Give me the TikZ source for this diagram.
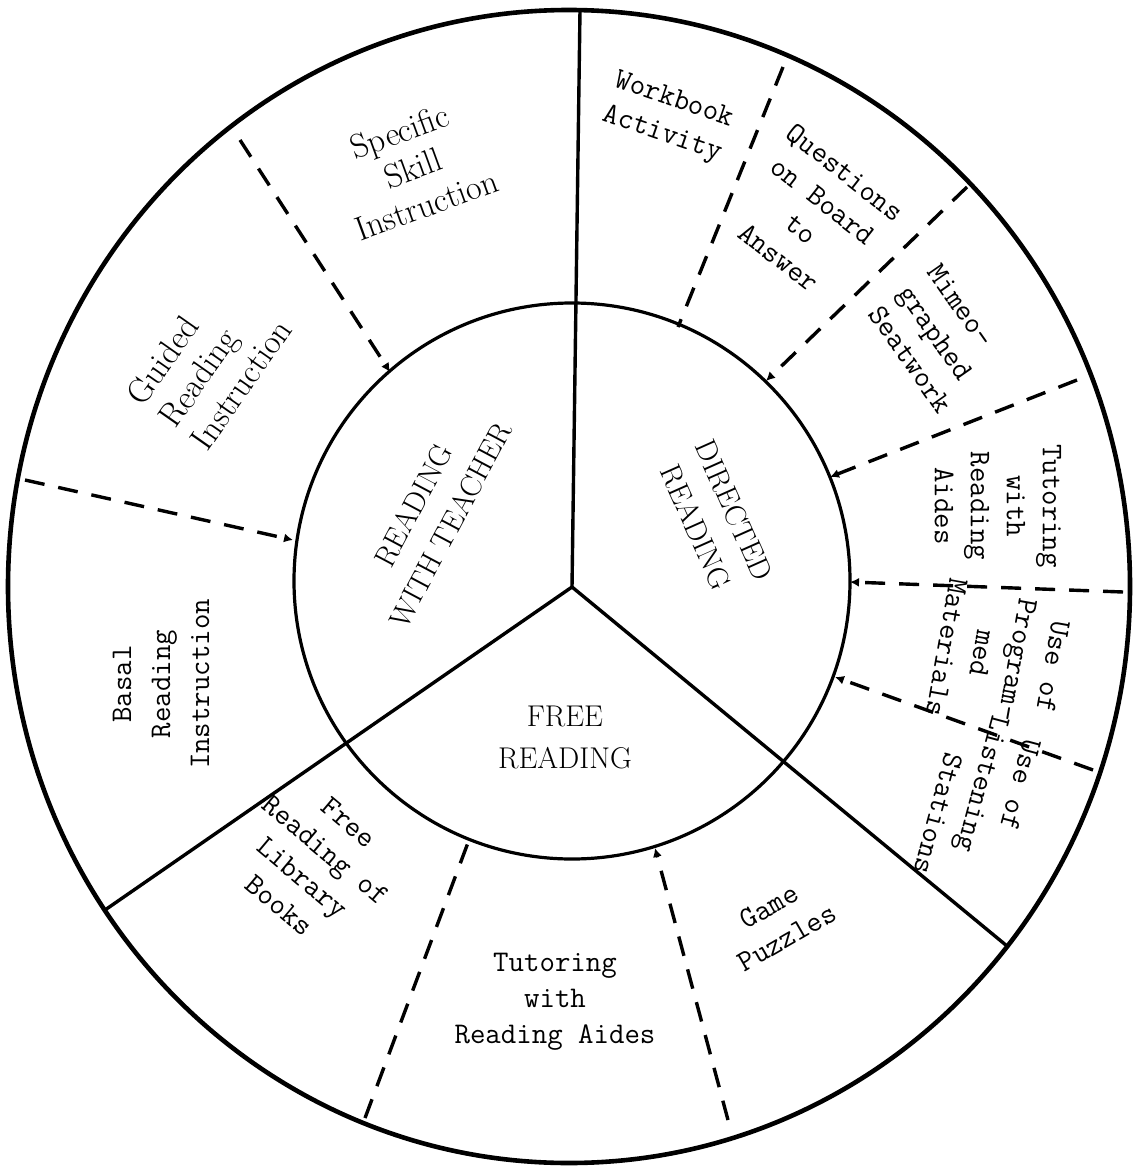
\documentclass[tikz,border=0pt]{standalone}
\usetikzlibrary{arrows.meta}
\begin{document}
\begin{tikzpicture}[x=0.5pt,y=-0.5pt,
  ring/.style={line width=2.3pt},
  hubline/.style={line width=1.6pt},
  spoke/.style={line width=1.7pt},
  divider/.style={line width=1.7pt, dash pattern=on 10pt off 7pt},
  tip/.style={-{Latex[length=4.5pt,width=4.5pt]}},
  tw/.style={font=\ttfamily\fontsize{15}{18}\selectfont, align=center, inner sep=0pt},
  rmlabel/.style={font=\fontsize{17}{19.5}\selectfont, align=center, inner sep=0pt},
  hublabel/.style={font=\fontsize{15}{21}\selectfont, align=center, inner sep=0pt}]

\useasboundingbox (0,0) rectangle (1132,1166);
\fill[white] (0,0) rectangle (1132,1166);

% centres of the outer ring, the hub circle and the meeting point of the spokes
\coordinate (O) at (569,586.5);
\coordinate (C) at (572,581);
\coordinate (P) at (572,587);

\draw[ring] (O) ellipse [x radius=561, y radius=576.5];
\draw[hubline] (C) circle [radius=278];

% three spokes dividing the wheel
\coordinate (top) at (580,10);
\coordinate (sw) at (105,910);
\coordinate (se) at (1007,946);
\draw[spoke] (P) -- (top);
\draw[spoke] (P) -- (sw);
\draw[spoke] (P) -- (se);

% dashed dividers of the outer ring
\coordinate (d1o) at (240,140);  \coordinate (d1i) at (390,372);
\coordinate (d2o) at (25,480);   \coordinate (d2i) at (293,540);
\coordinate (d3o) at (783,67);   \coordinate (d3i) at (678,327);
\coordinate (d4o) at (967,187);  \coordinate (d4i) at (766,381);
\coordinate (d5o) at (1077,380); \coordinate (d5i) at (830,477);
\coordinate (d6o) at (1123,592); \coordinate (d6i) at (850,582);
\coordinate (d7o) at (1093,770); \coordinate (d7i) at (835,677);
\coordinate (d8o) at (365,1118); \coordinate (d8i) at (469,840);
\coordinate (d9o) at (728,1120); \coordinate (d9i) at (655,848);

\draw[divider,tip] (d1o) -- (d1i);
\draw[divider,tip] (d2o) -- (d2i);
\draw[divider]     (d3o) -- (d3i);
\draw[divider,tip] (d4o) -- (d4i);
\draw[divider,tip] (d5o) -- (d5i);
\draw[divider,tip] (d6o) -- (d6i);
\draw[divider,tip] (d7o) -- (d7i);
\draw[divider]     (d8o) -- (d8i);
\draw[divider,tip] (d9o) -- (d9i);

% hub labels
\node[hublabel, rotate=62]  (hteach) at (432,515) {READING\\WITH TEACHER};
\node[hublabel, rotate=-66] (hdir)   at (715,519) {DIRECTED\\READING};
\node[hublabel]             (hfree)  at (565,737) {FREE\\READING};

% ring labels
\node[rmlabel, rotate=20] (skill) at (413,168) {Specific\\Skill\\Instruction};
\node[rmlabel, rotate=55, align=left] (guided) at (209,362) {Guided\\Reading\\Instruction};
\node[tw, rotate=90, font=\ttfamily\fontsize{15}{19.5}\selectfont] (basal) at (161,684) {Basal\\Reading\\Instruction};
\node[tw, rotate=-40] (library) at (314,864) {Free\\Reading of\\Library\\Books};
\node[tw] (tutorb) at (555,1002) {Tutoring\\with\\Reading Aides};
\node[tw, rotate=30] (game) at (778,922) {Game\\Puzzles};
\node[tw, rotate=-90] (tutorr) at (998,506) {Tutoring\\with\\Reading\\Aides};
\node[tw, rotate=-100] (progmat) at (1000,657) {Use of\\Program-\\med\\Materials};
\node[tw, rotate=-105, align=left] (listen) at (979,800) {\hspace*{7pt}Use of\\Listening\\\hspace*{24pt}Stations};
\node[tw, rotate=-55, align=left] (mimeo) at (940,339) {Mimeo-\\graphed\\Seatwork};
\node[tw, rotate=-38] (board) at (812,215) {Questions\\on Board\\to\\Answer};
\node[tw, rotate=-19] (workbook) at (668,118) {Workbook\\Activity};

\end{tikzpicture}
\end{document}
